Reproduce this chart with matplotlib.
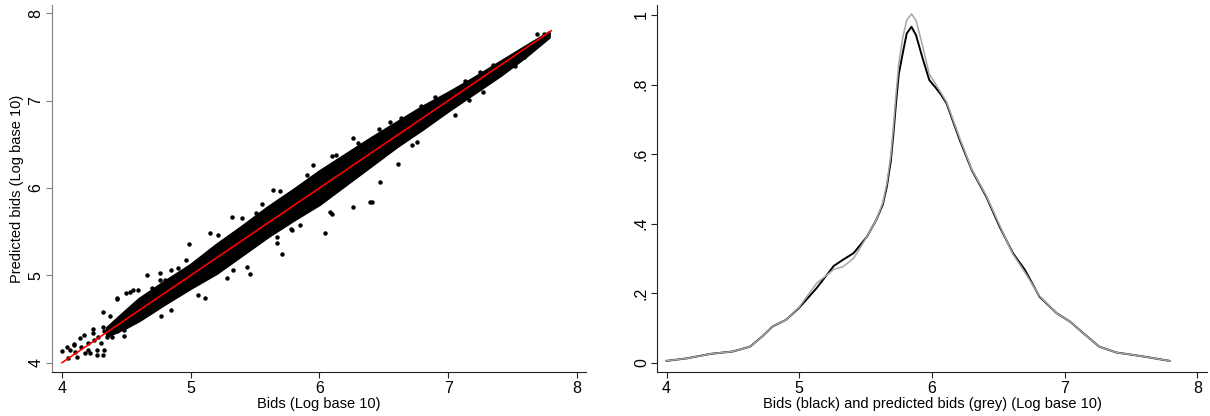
"""
Bids vs predicted bids: scatter with fit line (left) and
kernel densities of both (right).
"""

import matplotlib
matplotlib.use("Agg")
import matplotlib.pyplot as plt

plt.rcParams["font.family"] = ["Liberation Sans", "DejaVu Sans"]

# ── Left panel: dense core of the scatter (envelope) ──
band_x  = [4.35, 4.50, 4.60, 4.80, 5.00, 5.20, 5.40, 5.60, 5.80, 6.00,
           6.20, 6.40, 6.60, 6.80, 7.00, 7.20, 7.40, 7.60, 7.78]
band_hi = [4.40, 4.60, 4.73, 4.93, 5.12, 5.35, 5.56, 5.78, 5.98, 6.19,
           6.38, 6.57, 6.75, 6.93, 7.09, 7.26, 7.44, 7.62, 7.78]
band_lo = [4.31, 4.41, 4.49, 4.68, 4.86, 5.03, 5.24, 5.45, 5.64, 5.82,
           6.04, 6.26, 6.48, 6.68, 6.89, 7.09, 7.29, 7.51, 7.73]

# scattered points outside / around the core
pts_x = [4.00, 4.04, 4.05, 4.06, 4.09, 4.09, 4.10, 4.12, 4.14, 4.15,
         4.17, 4.18, 4.20, 4.20, 4.22, 4.24, 4.24, 4.25, 4.27, 4.27,
         4.28, 4.30, 4.32, 4.32, 4.32, 4.33, 4.33, 4.35, 4.37, 4.38,
         4.39, 4.40, 4.43, 4.43, 4.43, 4.45, 4.48, 4.48, 4.50, 4.53,
         4.55, 4.59, 4.66, 4.76, 4.76, 4.77, 4.80, 4.85, 4.85, 4.96,
         4.99, 5.06, 5.11, 5.15, 5.21, 5.28, 5.32, 5.33, 5.44, 5.46,
         5.51, 5.67, 5.67, 5.71, 5.78, 5.79, 5.85, 5.90, 5.95, 6.04,
         6.10, 6.10, 6.26, 6.26, 6.39, 6.41, 6.46, 6.47, 6.61, 6.63,
         6.72, 6.76, 6.79, 7.05, 7.13, 7.16, 7.25, 7.27, 7.35, 7.52,
         7.59, 7.66, 7.69, 7.74, 5.64, 5.69, 6.13, 6.08, 4.70, 4.90,
         5.55, 5.40, 6.30, 6.55, 6.90]
pts_y = [4.13, 4.18, 4.05, 4.15, 4.20, 4.21, 4.12, 4.06, 4.28, 4.18,
         4.32, 4.11, 4.22, 4.15, 4.11, 4.34, 4.39, 4.26, 4.09, 4.15,
         4.30, 4.22, 4.41, 4.58, 4.09, 4.15, 4.36, 4.30, 4.53, 4.42,
         4.30, 4.35, 4.73, 4.74, 4.36, 4.40, 4.31, 4.37, 4.80, 4.81,
         4.83, 4.83, 5.00, 4.95, 5.03, 4.53, 4.95, 5.06, 4.60, 5.18,
         5.36, 4.78, 4.74, 5.49, 5.46, 4.97, 5.67, 5.06, 5.10, 5.02,
         5.71, 5.37, 5.44, 5.25, 5.53, 5.52, 5.58, 6.15, 6.26, 5.48,
         5.70, 6.37, 5.78, 6.57, 5.84, 5.84, 6.67, 6.07, 6.28, 6.80,
         6.49, 6.53, 6.94, 6.83, 7.22, 7.01, 7.33, 7.10, 7.41, 7.40,
         7.50, 7.60, 7.76, 7.76, 5.98, 5.96, 6.38, 5.73, 4.85, 5.08,
         5.82, 5.66, 6.52, 6.75, 7.04]

fit_x = [4.0, 7.8]
fit_y = [4.0, 7.8]

# ── Right panel: kernel densities ──────────────────────────────────────────
dens_x = [4.00, 4.15, 4.33, 4.50, 4.63, 4.72, 4.80, 4.90, 5.00, 5.13,
          5.26, 5.33, 5.41, 5.51, 5.58, 5.63, 5.66, 5.69, 5.71, 5.73,
          5.75, 5.78, 5.81, 5.846, 5.88, 5.93, 5.98, 6.03, 6.07, 6.11,
          6.21, 6.30, 6.41, 6.51, 6.61, 6.70, 6.81, 6.94, 7.04, 7.14,
          7.26, 7.39, 7.57, 7.79]
bids    = [0.005, 0.012, 0.025, 0.032, 0.046, 0.075, 0.104, 0.123, 0.158, 0.214,
           0.278, 0.296, 0.315, 0.362, 0.410, 0.455, 0.506, 0.580, 0.660, 0.750,
           0.830, 0.890, 0.947, 0.966, 0.942, 0.875, 0.813, 0.790, 0.770, 0.746,
           0.640, 0.554, 0.477, 0.391, 0.315, 0.267, 0.190, 0.142, 0.118, 0.085,
           0.046, 0.029, 0.019, 0.005]
pred    = [0.005, 0.012, 0.025, 0.032, 0.046, 0.075, 0.104, 0.123, 0.160, 0.228,
           0.268, 0.276, 0.300, 0.362, 0.410, 0.460, 0.515, 0.595, 0.680, 0.775,
           0.860, 0.935, 0.985, 1.003, 0.985, 0.910, 0.830, 0.800, 0.775, 0.750,
           0.645, 0.556, 0.480, 0.395, 0.312, 0.260, 0.192, 0.142, 0.118, 0.085,
           0.046, 0.029, 0.019, 0.005]

ticks_x    = [4, 5, 6, 7, 8]
ticks_y_l  = [4, 5, 6, 7, 8]
ticks_y_r  = [0, 0.2, 0.4, 0.6, 0.8, 1.0]
labels_y_r = ["0", ".2", ".4", ".6", ".8", "1"]


def style_axes(ax, left_color):
    ax.spines["top"].set_visible(False)
    ax.spines["right"].set_visible(False)
    ax.spines["left"].set_color(left_color)
    ax.spines["bottom"].set_color("#222222")
    ax.tick_params(axis="x", length=4, width=0.8, pad=2,
                   labelsize=11.5, color="#222222")
    ax.tick_params(axis="y", length=4, width=0.8, pad=2,
                   labelsize=11.5, color=left_color)
    for lab in ax.get_yticklabels():
        lab.set_rotation(90)
        lab.set_va("center")


fig = plt.figure(figsize=(12.1, 4.16), dpi=100)

# ── Scatter ────────────────────────────────────────────────────────────────
ax = fig.add_axes([0.0427, 0.105, 0.4416, 0.883])
ax.fill_between(band_x, band_lo, band_hi, color="black", lw=2.5,
                edgecolor="black")
ax.plot(pts_x, pts_y, "o", color="black", ms=3.2, mew=0)
ax.plot(fit_x, fit_y, color="red", lw=1.2)
ax.set_xlim(3.92, 8.07)
ax.set_ylim(3.89, 8.095)
ax.set_xticks(ticks_x)
ax.set_yticks(ticks_y_l)
ax.set_xlabel("Bids (Log base 10)", fontsize=10.5, labelpad=1)
ax.set_ylabel("Predicted bids (Log base 10)", fontsize=10.5, labelpad=3)
style_axes(ax, "#808080")

# ── Densities ──────────────────────────────────────────────────────────────
ax2 = fig.add_axes([0.5432, 0.105, 0.454, 0.884])
ax2.plot(dens_x, bids, color="black", lw=1.4, solid_joinstyle="round")
ax2.plot(dens_x, pred, color="#a6a6a6", lw=1.1, solid_joinstyle="round")
ax2.set_xlim(3.93, 8.07)
ax2.set_ylim(-0.028, 1.03)
ax2.set_xticks(ticks_x)
ax2.set_yticks(ticks_y_r)
ax2.set_yticklabels(labels_y_r)
ax2.set_xlabel("Bids (black) and predicted bids (grey) (Log base 10)",
               fontsize=10.5, labelpad=1)
style_axes(ax2, "#222222")

plt.savefig("out.png", dpi=100)
plt.close()
